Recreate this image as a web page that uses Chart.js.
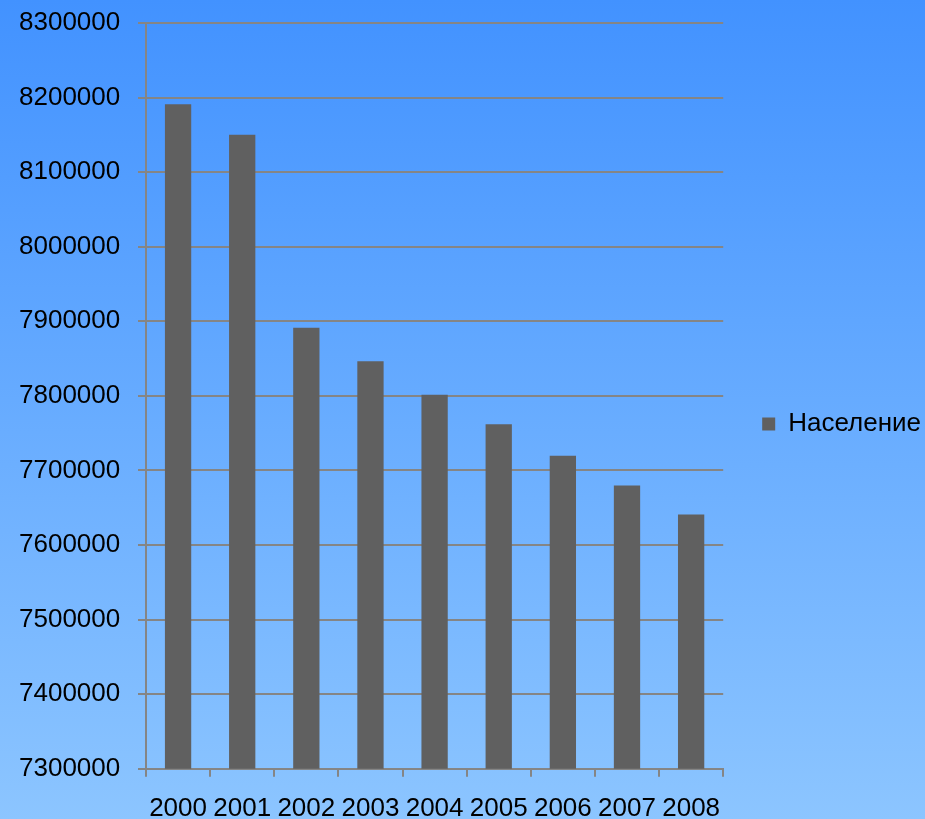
<!DOCTYPE html>
<html>
<head>
<meta charset="utf-8">
<script src="https://cdn.jsdelivr.net/npm/chart.js@4"></script>
<style>
  html, body { margin: 0; padding: 0; }
  body {
    width: 925px; height: 819px; overflow: hidden;
    background: linear-gradient(to bottom, rgb(66,146,255) 0%, rgb(140,197,255) 100%);
  }
  #wrap { position: relative; width: 925px; height: 819px; }
</style>
</head>
<body>
<div id="wrap"><canvas id="myChart"></canvas></div>
<script>
const years = ['2000', '2001', '2002', '2003', '2004', '2005', '2006', '2007', '2008'];
const population = [8191000, 8150000, 7891500, 7846500, 7801700, 7762100, 7719600, 7679800, 7640900];
const seriesName = 'Население';
const yMin = 7300000;
const yMax = 8300000;
const yStep = 100000;

const axisGray = '#858585';
const font = { family: '"Liberation Sans", Arial, sans-serif', size: 26 };

const ctx = document.getElementById('myChart').getContext('2d');
const myChart = new Chart(ctx, {
    type: 'bar',
    data: {
        labels: years,
        datasets: [{
            label: seriesName,
            data: population,
            backgroundColor: '#606060',
            borderWidth: 0,
            barPercentage: 0.41,
            categoryPercentage: 1
        }]
    },
    options: {
        responsive: true,
        maintainAspectRatio: false,
        animation: false,
        // legend padding pushes the plot in, negative right padding lets the legend sit near the edge
        layout: { padding: { left: 19, top: 8, right: -6, bottom: -21 } },
        plugins: {
            tooltip: { enabled: false },
            legend: {
                position: 'right',
                labels: {
                    color: '#000',
                    font: font,
                    boxWidth: 13,
                    boxHeight: 13,
                    padding: 39
                }
            }
        },
        scales: {
            x: {
                grid: {
                    drawOnChartArea: false,
                    drawTicks: true,
                    tickLength: 8,
                    color: axisGray,
                    lineWidth: 2
                },
                border: { color: axisGray, width: 2 },
                ticks: { color: '#000', font: font, padding: 16, maxRotation: 0 }
            },
            y: {
                min: yMin,
                max: yMax,
                // fixed axis width, labels pinned to its left edge
                afterFit: scale => { scale.width = 127; },
                grid: {
                    color: axisGray,
                    lineWidth: 2,
                    tickLength: 8
                },
                border: { color: axisGray, width: 2 },
                ticks: {
                    stepSize: yStep,
                    color: '#000',
                    font: font,
                    padding: 7.4,
                    crossAlign: 'far',
                    callback: v => String(v)
                }
            }
        }
    }
});
</script>
</body>
</html>
